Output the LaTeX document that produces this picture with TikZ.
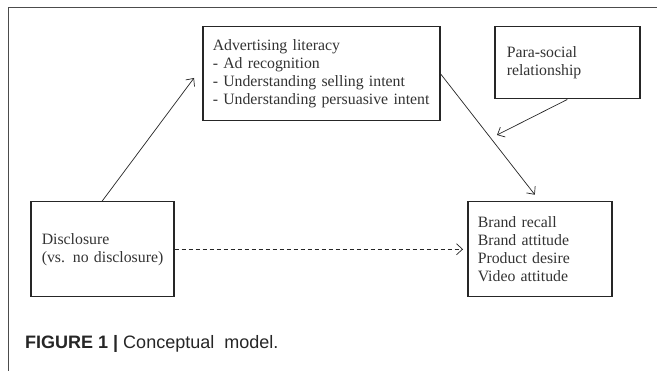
\documentclass[tikz,border=0pt]{standalone}
\usepackage{fontspec}
\setmainfont{Liberation Serif}
\newfontfamily\capfont{Liberation Sans}
\usetikzlibrary{arrows.meta}
\newcommand{\boxline}[1]{\mbox{#1}}
\begin{document}
\begin{tikzpicture}[x=1pt,y=-1pt,
  box/.style={draw=black!85, line width=1.5pt, anchor=north west, align=left,
    inner ysep=0pt, font=\fontsize{15.8}{18}\selectfont, text=black!80},
  arr/.style={draw=black!85, line width=0.7pt, -{Straight Barb[length=6pt,width=11pt,line width=0.7pt]}},
  frame/.style={draw=black!70, line width=1pt}]
\useasboundingbox (0,0) rectangle (657,371);
\fill[white] (0,0) rectangle (657,371);
% frame
\coordinate (ftl) at (8,8);
\coordinate (ftr) at (657,8);
\coordinate (fbl) at (8,371);
\draw[frame] (ftr) -- (ftl) -- (fbl);
% boxes
\node[box, inner xsep=10pt, text width=217pt, minimum height=94pt] (adv) at (202,26)
  {\boxline{Advertising literacy}\\\boxline{- Ad recognition}\\\boxline{- Understanding selling intent}\\\boxline{- Understanding persuasive intent}};
\node[box, inner xsep=12pt, text width=121pt, minimum height=72pt] (para) at (494,26)
  {\boxline{Para-social}\\\boxline{relationship}};
\node[box, inner xsep=11pt, text width=121pt, minimum height=95pt] (dis) at (30,201)
  {\boxline{Disclosure}\\\boxline{(vs. no disclosure)}};
\node[box, inner xsep=10pt, text width=124pt, minimum height=95pt] (out) at (467,201)
  {\boxline{Brand recall}\\\boxline{Brand attitude}\\\boxline{Product desire}\\\boxline{Video attitude}};
% connectors
\coordinate (advin) at (194,78);
\coordinate (mod) at (497,135);
\draw[arr] (dis.north) -- (advin);
\draw[arr, shorten >=8pt] (adv.east) -- (out.north);
\draw[arr] (para.south) -- (mod);
\draw[arr, dash pattern=on 4pt off 3pt, shorten >=4pt] (dis.east) -- (out.west);
% caption
\node[anchor=base west, inner sep=0pt, font=\capfont\fontsize{18}{20}\selectfont, text=black!85] (cap) at (25,349)
  {\textbf{FIGURE 1} \textbf{|} Conceptual\ \ model.};
\end{tikzpicture}
\end{document}
